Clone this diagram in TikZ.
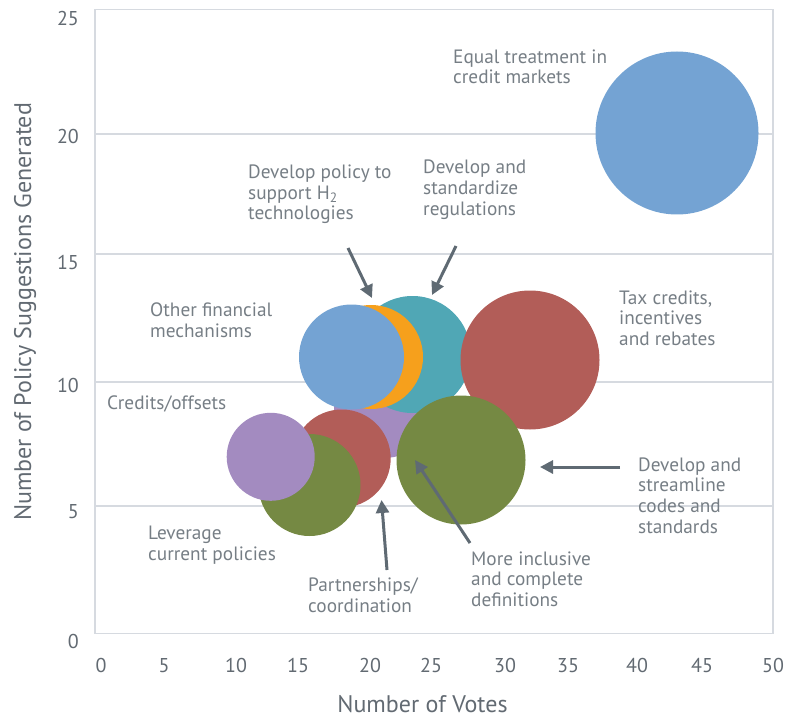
\documentclass[tikz,border=0pt]{standalone}
\usepackage{fontspec}
\setmainfont{PT Sans}
\usetikzlibrary{arrows.meta}
\definecolor{gridgray}{RGB}{214,218,224}
\definecolor{txtgray}{RGB}{118,126,133}
\definecolor{tickgray}{RGB}{98,106,114}
\definecolor{arrgray}{RGB}{95,106,115}
\definecolor{bblue}{RGB}{116,163,211}
\definecolor{bred}{RGB}{178,93,88}
\definecolor{bgreen}{RGB}{117,137,67}
\definecolor{bteal}{RGB}{80,167,181}
\definecolor{borange}{RGB}{246,160,28}
\definecolor{bpurple}{RGB}{163,139,192}
\begin{document}
\begin{tikzpicture}[x=1pt,y=-1pt,
    bubble/.style={circle,inner sep=0pt,minimum size=#1},
    lbl/.style={anchor=base west,align=left,inner sep=0pt,text=txtgray,
      font=\fontsize{19.3}{20.6}\selectfont},
    tick/.style={inner sep=0pt,text=tickgray,font=\fontsize{20}{24}\selectfont},
    axtitle/.style={inner sep=0pt,text=tickgray,font=\fontsize{24}{26}\selectfont},
    arr/.style={draw=arrgray,line width=3pt,-{Triangle[length=13pt,width=13pt]}}]
  \useasboundingbox (0,0) rectangle (786,719);
  % frame and grid
  \draw[gridgray,line width=1.6pt] (95,9.5) rectangle (773,633.3);
  \foreach \gy in {134.3,254,381.7,505.7}
    \draw[gridgray,line width=1.6pt] (95,\gy) -- (773,\gy);
  % tick labels
  \foreach \v/\ty in {25/19,20/137,15/262,10/385,5/512,0/641}
    \node[tick,anchor=east] (y\v) at (79,\ty) {\v};
  \foreach \v/\tx in {0/101,5/164,10/236,15/298,20/370,25/431,30/505,35/568,40/637,45/702,50/773}
    \node[tick] (x\v) at (\tx,665.5) {\v};
  \node[axtitle,anchor=base] (xtitle) at (422.5,712.5) {Number of Votes};
  \node[axtitle,rotate=90] (ytitle) at (25,312) {Number of Policy Suggestions Generated};
  % bubbles
  \node[bubble=100pt,fill=bpurple] (incl) at (384,408) {};
  \node[bubble=117pt,fill=bteal] (reg) at (412.5,354.5) {};
  \node[bubble=104pt,fill=borange] (htwo) at (371,357) {};
  \node[bubble=105pt,fill=bblue] (fin) at (351.5,357) {};
  \node[bubble=139pt,fill=bred] (tax) at (530,360) {};
  \node[bubble=129pt,fill=bgreen] (code) at (461,460) {};
  \node[bubble=98pt,fill=bred] (part) at (341.7,458.5) {};
  \node[bubble=102pt,fill=bgreen] (lev) at (309.5,485) {};
  \node[bubble=88pt,fill=bpurple] (cred) at (270.7,456.8) {};
  \node[bubble=163pt,fill=bblue] (eq) at (677,133) {};
  % labels
  \node[lbl] (eqlbl) at (453,84) {Equal treatment in\\credit markets};
  \node[lbl] (htwolbl) at (248,220) {Develop policy to\\support H\textsubscript{2}\\technologies};
  \node[lbl] (reglbl) at (423,215) {Develop and\\standardize\\regulations};
  \node[lbl] (finlbl) at (150,337) {Other financial\\mechanisms};
  \node[lbl] (taxlbl) at (619,345.5) {Tax credits,\\incentives\\and rebates};
  \node[lbl] (credlbl) at (107,409) {Credits/offsets};
  \node[lbl] (codelbl) at (638,533) {Develop and\\streamline\\codes and\\standards};
  \node[lbl] (levlbl) at (148,560) {Leverage\\current policies};
  \node[lbl] (partlbl) at (308,612) {Partnerships/\\coordination};
  \node[lbl] (incllbl) at (471,606.5) {More inclusive\\and complete\\definitions};
  % arrows
  \coordinate (htwoa) at (348,248);
  \coordinate (htwob) at (372,298);
  \coordinate (rega) at (456,246);
  \coordinate (regb) at (432,295);
  \coordinate (codea) at (620,467);
  \coordinate (codeb) at (540,467);
  \coordinate (incla) at (470,543);
  \coordinate (inclb) at (415,460);
  \coordinate (parta) at (387,570);
  \coordinate (partb) at (381.5,500);
  \draw[arr] (htwoa) -- (htwob);
  \draw[arr] (rega) -- (regb);
  \draw[arr] (codea) -- (codeb);
  \draw[arr] (incla) -- (inclb);
  \draw[arr] (parta) -- (partb);
\end{tikzpicture}
\end{document}
